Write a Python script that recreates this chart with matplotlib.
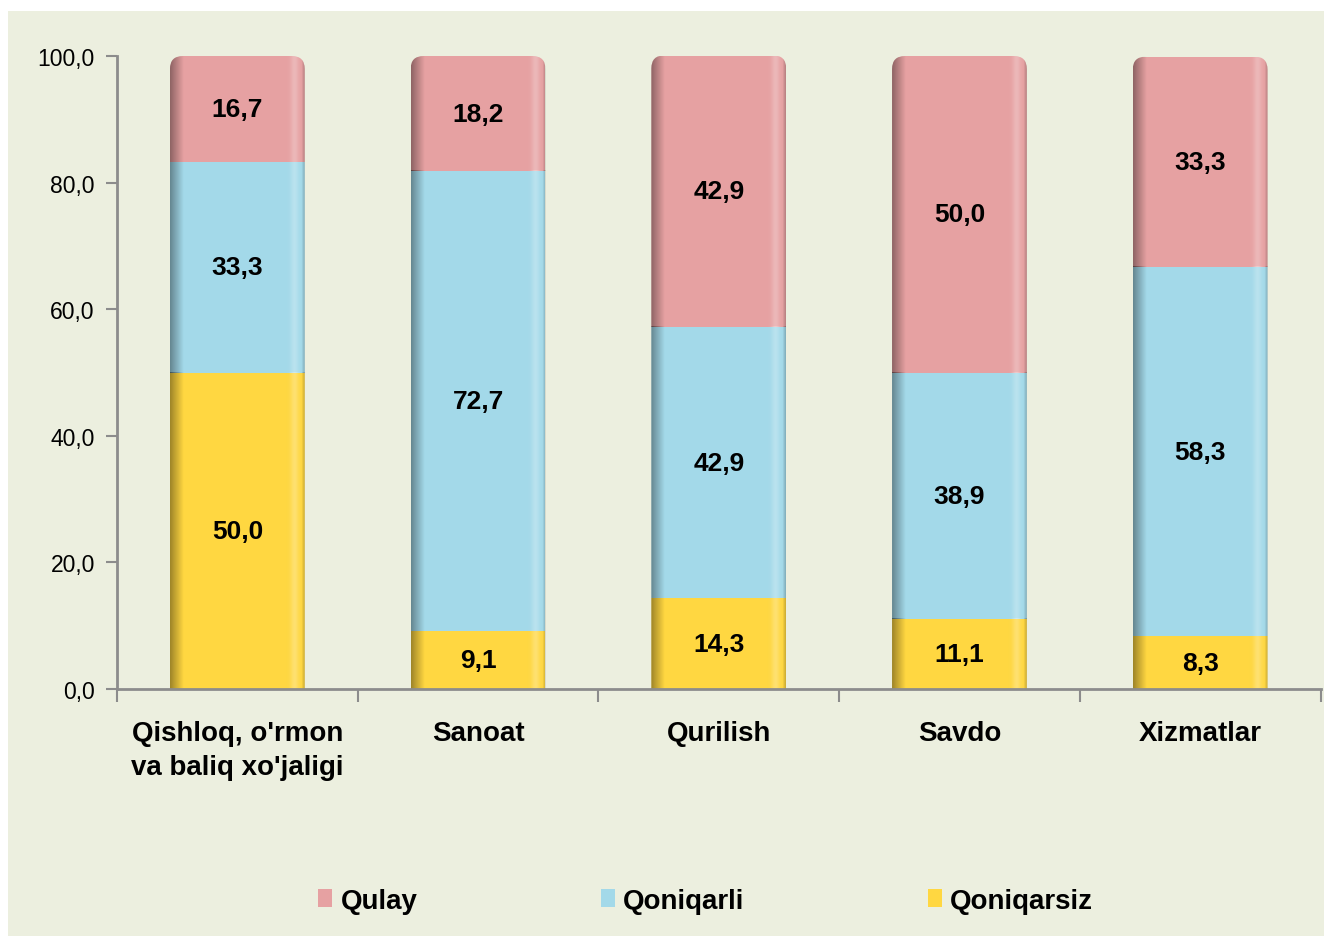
import numpy as np
import matplotlib
matplotlib.use("Agg")
import matplotlib.pyplot as plt
from matplotlib.patches import FancyBboxPatch, Rectangle

categories = ["Qishloq, o'rmon\nva baliq xo'jaligi", "Sanoat", "Qurilish", "Savdo", "Xizmatlar"]
qulay = [16.7, 18.2, 42.9, 50.0, 33.3]
qoniqarli = [33.3, 72.7, 42.9, 38.9, 58.3]
qoniqarsiz = [50.0, 9.1, 14.3, 11.1, 8.3]
series_names = ["Qulay", "Qoniqarli", "Qoniqarsiz"]
yticks = [0, 20, 40, 60, 80, 100]

colors = {"Qulay": "#E6A1A2", "Qoniqarli": "#A3D9E9", "Qoniqarsiz": "#FFD741"}

plt.rcParams['font.family'] = ['Liberation Sans', 'DejaVu Sans']

fig = plt.figure(figsize=(13.24, 9.37), dpi=100)
fig.patch.set_facecolor("white")
bg = Rectangle((8 / 1324, 0), 1 - 8 / 1324, 1 - 12 / 937, transform=fig.transFigure,
               facecolor="#ECEFDF", edgecolor="none", zorder=-10)
fig.patches.append(bg)

ax = fig.add_axes([117 / 1324, 1 - 690 / 937, (1320.5 - 117) / 1324, (690 - 57) / 937])
ax.set_facecolor("none")

x = np.arange(len(categories))
w = 0.56
b1 = ax.bar(x, qoniqarsiz, w, color=colors["Qoniqarsiz"], label="Qoniqarsiz", zorder=2)
bottom2 = np.array(qoniqarsiz)
b2 = ax.bar(x, qoniqarli, w, bottom=bottom2, color=colors["Qoniqarli"], label="Qoniqarli", zorder=2)
bottom3 = bottom2 + np.array(qoniqarli)
b3 = ax.bar(x, qulay, w, bottom=bottom3, color=colors["Qulay"], label="Qulay", zorder=2)

ax.set_xlim(-0.5, len(categories) - 0.5)
ax.set_ylim(0, 100)

# gradient for 3D-ish shading
n = 200
t = np.linspace(0, 1, n)
grad = np.zeros((1, n, 4))
dark = np.clip(1 - t / 0.1, 0, 1) * 0.38 + np.clip((t - 0.975) / 0.025, 0, 1) * 0.2
light = np.exp(-((t - 0.925) / 0.03) ** 2) * 0.25
grad[0, :, :3] = (light / (light + dark + 1e-9))[:, None]
grad[0, :, 3] = np.maximum(dark, light)

# rounded top clip per stack
px_per_x = ax.get_position().width * 1324 / (len(categories))
px_per_y = ax.get_position().height * 937 / 100
r_px = 13
for i in range(len(categories)):
    top_patch = b3.patches[i]
    x0 = top_patch.get_x()
    wd = top_patch.get_width()
    top = top_patch.get_y() + top_patch.get_height()
    rs = r_px / px_per_x
    clip = FancyBboxPatch((x0, -20), wd, top + 20,
                          boxstyle=f"round,pad=0,rounding_size={rs}",
                          mutation_aspect=px_per_x / px_per_y,
                          transform=ax.transData, facecolor="none", edgecolor="none")
    ax.add_patch(clip)
    for bars in (b1, b2, b3):
        p = bars.patches[i]
        p.set_clip_path(clip)
        im = ax.imshow(grad, extent=(p.get_x(), p.get_x() + p.get_width(), p.get_y(), p.get_y() + p.get_height()),
                       aspect="auto", zorder=3, interpolation="bilinear")
        im.set_clip_path(clip)
ax.set_xlim(-0.5, len(categories) - 0.5)
ax.set_ylim(0, 100)

def fmt(v):
    return f"{v:.1f}".replace(".", ",")

for bars, vals, bots in ((b1, qoniqarsiz, np.zeros(5)), (b2, qoniqarli, bottom2), (b3, qulay, bottom3)):
    for xi, v, bo in zip(x, vals, bots):
        ax.text(xi, bo + v / 2, fmt(v), ha="center", va="center", fontsize=19,
                fontweight="bold", color="black", zorder=5)

# axes styling
for s in ["top", "right"]:
    ax.spines[s].set_visible(False)
for s in ["left", "bottom"]:
    ax.spines[s].set_color("#8C8C8C")
    ax.spines[s].set_linewidth(2)
    ax.spines[s].set_zorder(4)

ax.set_yticks(yticks)
ax.set_yticklabels([fmt(v) for v in yticks], fontsize=16.5)
ax.tick_params(axis="y", direction="out", length=8, width=1.5, color="#8C8C8C", pad=8)

ax.set_xticks(np.arange(-0.5, len(categories)), minor=False)
ax.set_xticklabels([])
ax.tick_params(axis="x", direction="out", length=9, width=1.5, color="#8C8C8C")
ax.set_xticks(x, minor=True)
ax.set_xticklabels(categories, minor=True, fontsize=20, fontweight="bold", linespacing=1.4)
ax.tick_params(axis="x", which="minor", length=0, pad=22)
for lbl in ax.get_xticklabels(minor=True):
    lbl.set_va("top")
    lbl.set_multialignment("center")

handles = [b3, b2, b1]
leg = fig.legend(handles, series_names, loc="center", bbox_to_anchor=(0.533, 1 - 902 / 937), ncol=3,
                 frameon=False, prop={"size": 20, "weight": "bold"}, handlelength=0.5, handleheight=0.6,
                 handletextpad=0.3, columnspacing=6.6)

fig.savefig("out.png", dpi=100, facecolor=fig.get_facecolor())
